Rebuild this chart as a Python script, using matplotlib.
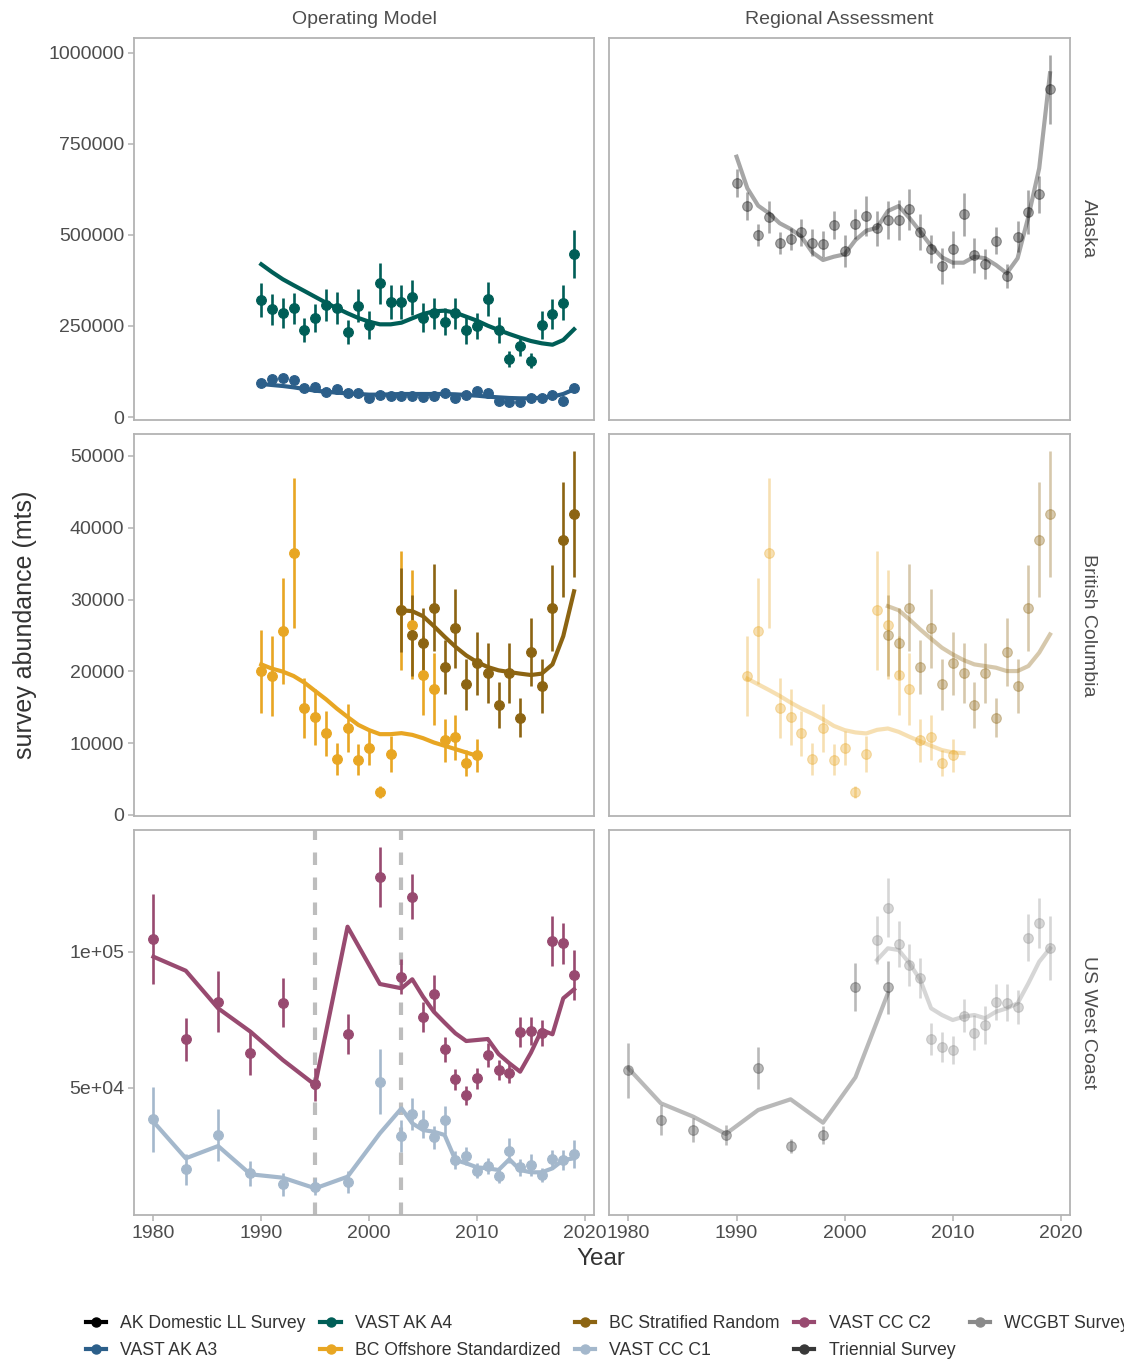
import matplotlib
matplotlib.use("Agg")
import matplotlib.pyplot as plt
from matplotlib.lines import Line2D

plt.rcParams['font.family'] = ['Liberation Sans', 'DejaVu Sans']

# ---------------- legend / series ----------------
series_names = ["AK Domestic LL Survey", "VAST AK A3", "VAST AK A4",
                "BC Offshore Standardized", "BC Stratified Random",
                "VAST CC C1", "VAST CC C2", "Triennial Survey", "WCGBT Survey"]
series_colors = ["#000000", "#2c5f8a", "#005e57", "#e8a623", "#8c6412",
                 "#a4b8cc", "#984a70", "#383838", "#8a8a8a"]
col_names = ["Operating Model", "Regional Assessment"]
row_names = ["Alaska", "British Columbia", "US West Coast"]

# ---------------- Alaska : Operating Model ----------------
ak_years = list(range(1990, 2020))
a4_values = [321400, 295900, 284900, 298600, 239000, 272800, 307700, 298600, 234500, 305900,
             252700, 367300, 315100, 315100, 328800, 272800, 284900, 261800, 284900, 239000,
             250000, 323300, 239000, 158500, 195900, 154700, 252700, 283000, 314000, 447800]
a4_err = [46700, 43000, 41000, 42000, 33000, 38000, 43000, 44000, 33000, 45000,
          38000, 57000, 47000, 47000, 48000, 40000, 42000, 37000, 43000, 38000,
          36000, 47000, 36000, 22000, 27500, 21000, 38500, 42000, 48000, 67000]
a4_fit = [419500, 398000, 378300, 362000, 346100, 330000, 314000, 299000, 284900, 272000,
          261800, 254600, 254600, 259100, 271100, 283000, 290300, 292100, 286600, 275600,
          264600, 250800, 239000, 228000, 217900, 208800, 202500, 198600, 211500, 240900]
a3_values = [92600, 104400, 108000, 101600, 80500, 83200, 67800, 76900, 65100, 66800,
             51400, 60400, 57700, 58500, 58500, 55800, 58500, 65100, 51400, 60400,
             71400, 66800, 44800, 42000, 42000, 51400, 51400, 60400, 44800, 78800]
a3_err = [8000, 8500, 8500, 8000, 7000, 7000, 6000, 6500, 6000, 6000,
          5000, 5500, 5500, 5500, 5500, 5000, 5500, 6000, 5000, 5500,
          6000, 6000, 4500, 4500, 4500, 5000, 5000, 5500, 4500, 7000]
a3_fit = [90650, 87900, 85160, 81500, 76920, 72340, 69600, 66850, 65020, 63190,
          61360, 61360, 62270, 63190, 63190, 63190, 63190, 63190, 62270, 60440,
          58610, 55860, 54030, 52200, 51290, 51290, 53120, 55860, 63190, 76010]

# ---------------- Alaska : Regional Assessment ----------------
akll_values = [642000, 580500, 500000, 550400, 478900, 489000, 507400, 478900, 475300, 527500,
               456000, 531200, 552200, 518400, 541200, 541200, 570600, 507400, 461500, 414800,
               460600, 556800, 444400, 420300, 484400, 387700, 495400, 562400, 611800, 901000]
akll_err = [38500, 38000, 30700, 44000, 30000, 30700, 36600, 36600, 36600, 39000,
            45000, 41000, 55000, 48500, 51700, 55000, 57000, 49500, 38000, 49000,
            50500, 59500, 48500, 40000, 36600, 32000, 42000, 60400, 50400, 94800]
akll_fit = [715100, 628300, 580500, 559600, 532200, 516500, 495400, 452500, 431300, 440400,
            446900, 486200, 511800, 520000, 565900, 579600, 546700, 509100, 469800, 438700,
            423900, 423900, 440400, 436000, 417600, 394800, 436000, 550400, 683200, 944200]

# ---------------- British Columbia : Operating Model ----------------
bco_years = [1990, 1991, 1992, 1993, 1994, 1995, 1996, 1997, 1998, 1999, 2000,
             2001, 2002, 2003, 2004, 2005, 2006, 2007, 2008, 2009, 2010]
bco_values = [20000, 19350, 25600, 36500, 14900, 13650, 11350, 7800, 12100, 7700, 9300,
              3150, 8450, 28500, 26500, 19450, 17500, 10400, 10800, 7200, 8300]
bco_err = [5800, 5550, 7400, 10500, 4240, 3890, 3080, 2220, 3400, 2200, 2380,
           830, 2500, 8300, 7570, 5500, 5000, 2960, 3100, 1800, 2300]
bco_fit = [20970, 20370, 19960, 19350, 18430, 17260, 16110, 14820, 13650, 12540, 11810,
           11250, 11250, 11390, 11150, 10690, 10090, 9630, 9170, 8700, 8240]
bcs_years = list(range(2003, 2020))
bcs_values = [28510, 25000, 23890, 28850, 20650, 25970, 18190, 21110, 19820, 15280,
              19820, 13570, 22680, 17960, 28850, 38330, 41940]
bcs_err = [5830, 5600, 5000, 6060, 3770, 5440, 3590, 4400, 4170, 3190,
           4170, 2780, 4700, 3750, 6020, 8030, 8800]
bcs_fit = [28510, 28380, 27680, 26300, 24820, 23430, 22220, 21290, 20600, 20140,
           19900, 19680, 19490, 19680, 20970, 24900, 31150]

# ---------------- British Columbia : Regional Assessment ----------------
ra_bco_years = bco_years[1:]
ra_bco_values = bco_values[1:]
ra_bco_err = bco_err[1:]
ra_bco_fit_years = list(range(1991, 2012))
ra_bco_fit = [18980, 18190, 17400, 16570, 15650, 14820, 14120, 13330, 12400, 11810, 11490,
              11350, 11850, 12040, 11570, 10880, 10240, 9630, 9030, 8710, 8610]
ra_bcs_years = bcs_years[1:]
ra_bcs_values = bcs_values[1:]
ra_bcs_err = bcs_err[1:]
ra_bcs_fit = [29070, 28510, 27220, 25830, 24540, 23290, 22360, 21570, 20970, 20740,
              20510, 20040, 20040, 20740, 22600, 25140]

# ---------------- US West Coast : Operating Model ----------------
cc_years = [1980, 1983, 1986, 1989, 1992, 1995, 1998, 2001, 2003, 2004, 2005, 2006, 2007,
            2008, 2009, 2010, 2011, 2012, 2013, 2014, 2015, 2016, 2017, 2018, 2019]
c2_values = [104670, 67800, 81620, 62650, 81250, 51250, 69740, 127350, 90810, 120220,
             75880, 84460, 64130, 53100, 47320, 53460, 62020, 56520, 55300, 70370,
             70960, 70000, 104040, 103090, 91320]
c2_err = [16430, 7970, 11150, 7970, 9000, 6130, 7290, 11090, 6430, 8210,
          5510, 7050, 4660, 3860, 3490, 3800, 4410, 3800, 3680, 5510,
          5080, 4720, 9190, 7470, 9190]
c2_fit = [98160, 93010, 79190, 70590, 60190, 51000, 109190, 88130, 86550, 89860,
          83460, 77940, 73900, 70000, 67170, 67540, 67910, 62400, 58980, 55890,
          62870, 71220, 69640, 82870, 86180]
c1_values = [38390, 20010, 32620, 18540, 14490, 13610, 15450, 52210, 32250, 40230,
             36660, 31770, 38130, 23430, 24900, 19490, 21220, 17660, 26850, 20740,
             21590, 17910, 23690, 23430, 25640]
c1_err = [11950, 5700, 9440, 4600, 4170, 3060, 3980, 11890, 6000, 5820,
          5210, 4290, 5020, 3250, 3370, 2760, 2760, 2570, 4600, 3060,
          3980, 2450, 3370, 3680, 5080]
c1_fit = [37510, 24050, 28570, 18170, 16920, 13020, 17290, 33230, 42420, 36910,
          34450, 33820, 32620, 23430, 22210, 20740, 20370, 19750, 23690, 19750,
          18910, 18910, 20370, 23430, 24050]
break_years = [1995, 2003]

# ---------------- US West Coast : Regional Assessment ----------------
tri_years = [1980, 1983, 1986, 1989, 1992, 1995, 1998, 2001, 2004]
tri_values = [56510, 38130, 34450, 32620, 57130, 28580, 32620, 86910, 86910]
tri_err = [10110, 5510, 4410, 3800, 7720, 2570, 3190, 8880, 9800]
tri_fit = [57130, 44270, 39350, 32990, 41810, 45740, 37140, 53830, 84710]
wc_years = list(range(2003, 2020))
wc_values = [104300, 116170, 102720, 95110, 90220, 67910, 64860, 63870, 76470, 70220,
             73060, 81620, 81250, 79780, 105150, 110440, 101470]
wc_err = [8700, 10840, 8390, 7780, 7350, 5700, 5510, 5200, 6130, 6430,
          6980, 6620, 6740, 6250, 8580, 9190, 11760]
wc_fit = [96950, 101250, 100620, 95740, 89600, 79190, 76730, 74890, 76110, 76730,
          75520, 77940, 79190, 81030, 88380, 96320, 101250]

# ---------------- figure ----------------
W, H = 1124, 1359
fig = plt.figure(figsize=(W / 100, H / 100), dpi=100)

col_x = [(134, 594), (609, 1070)]
row_y = [(38, 420), (434, 816), (830, 1215)]
ylims = [(-8240, 1041200), (-150, 53060), (3210, 144740)]
yticks = [([0, 250000, 500000, 750000, 1000000], ["0", "250000", "500000", "750000", "1000000"]),
          ([0, 10000, 20000, 30000, 40000, 50000], ["0", "10000", "20000", "30000", "40000", "50000"]),
          ([50000, 100000], ["5e+04", "1e+05"])]
xticks = [1980, 1990, 2000, 2010, 2020]
border = "#b3b3b3"
txtc = "#4d4d4d"
RA_ALPHA = 0.35

axes = {}
for r, (y0, y1) in enumerate(row_y):
    for c, (x0, x1) in enumerate(col_x):
        ax = fig.add_axes([x0 / W, 1 - y1 / H, (x1 - x0) / W, (y1 - y0) / H])
        ax.set_xlim(1978.2, 2020.85)
        ax.set_ylim(*ylims[r])
        for s in ax.spines.values():
            s.set_color(border)
            s.set_linewidth(1.3)
        ax.set_xticks(xticks)
        ax.set_xticklabels([str(v) for v in xticks])
        ax.set_yticks(yticks[r][0])
        ax.set_yticklabels(yticks[r][1])
        ax.tick_params(colors=border, labelcolor=txtc, labelsize=14, length=4, width=1.1,
                       pad=3)
        if r < 2:
            ax.tick_params(axis='x', bottom=False, labelbottom=False)
        if c == 1:
            ax.tick_params(axis='y', left=False, labelleft=False)
        axes[(r, c)] = ax


def pts(ax, x, y, e, color, alpha=1.0):
    ax.errorbar(x, y, yerr=e, fmt='o', color=color, ms=7, mew=0.8, mec=color,
                elinewidth=1.9, capsize=0, alpha=alpha, zorder=3)


def fit(ax, x, y, color, alpha=1.0):
    ax.plot(x, y, color=color, lw=3, alpha=alpha, zorder=4, solid_joinstyle='round')


C = dict(zip(series_names, series_colors))

# Alaska
ax = axes[(0, 0)]
pts(ax, ak_years, a4_values, a4_err, C["VAST AK A4"])
fit(ax, ak_years, a4_fit, C["VAST AK A4"])
pts(ax, ak_years, a3_values, a3_err, C["VAST AK A3"])
fit(ax, ak_years, a3_fit, C["VAST AK A3"])
ax = axes[(0, 1)]
pts(ax, ak_years, akll_values, akll_err, C["AK Domestic LL Survey"], RA_ALPHA)
fit(ax, ak_years, akll_fit, C["AK Domestic LL Survey"], RA_ALPHA)

# British Columbia
ax = axes[(1, 0)]
pts(ax, bco_years, bco_values, bco_err, C["BC Offshore Standardized"])
fit(ax, bco_years, bco_fit, C["BC Offshore Standardized"])
pts(ax, bcs_years, bcs_values, bcs_err, C["BC Stratified Random"])
fit(ax, bcs_years, bcs_fit, C["BC Stratified Random"])
ax = axes[(1, 1)]
pts(ax, ra_bco_years, ra_bco_values, ra_bco_err, C["BC Offshore Standardized"], RA_ALPHA)
fit(ax, ra_bco_fit_years, ra_bco_fit, C["BC Offshore Standardized"], RA_ALPHA)
pts(ax, ra_bcs_years, ra_bcs_values, ra_bcs_err, C["BC Stratified Random"], RA_ALPHA)
fit(ax, ra_bcs_years, ra_bcs_fit, C["BC Stratified Random"], RA_ALPHA)

# US West Coast
ax = axes[(2, 0)]
for by in break_years:
    ax.axvline(by, color="#bdbdbd", lw=3, dashes=(3, 3), zorder=2)
pts(ax, cc_years, c2_values, c2_err, C["VAST CC C2"])
fit(ax, cc_years, c2_fit, C["VAST CC C2"])
pts(ax, cc_years, c1_values, c1_err, C["VAST CC C1"])
fit(ax, cc_years, c1_fit, C["VAST CC C1"])
ax = axes[(2, 1)]
pts(ax, tri_years, tri_values, tri_err, C["Triennial Survey"], RA_ALPHA)
fit(ax, tri_years, tri_fit, C["Triennial Survey"], RA_ALPHA)
pts(ax, wc_years, wc_values, wc_err, C["WCGBT Survey"], RA_ALPHA)
fit(ax, wc_years, wc_fit, C["WCGBT Survey"], RA_ALPHA)

# strip labels
for c, (x0, x1) in enumerate(col_x):
    fig.text((x0 + x1) / 2 / W, 1 - 19 / H, col_names[c], ha='center', va='center',
             fontsize=14, color=txtc)
for r, (y0, y1) in enumerate(row_y):
    fig.text(1088 / W, 1 - (y0 + y1) / 2 / H, row_names[r], ha='center', va='center',
             rotation=-90, fontsize=14, color=txtc)

fig.text(25 / W, 1 - 625 / H, "survey abundance (mts)", rotation=90, ha='center',
         va='center', fontsize=18, color="#333333")
fig.text(601 / W, 1 - 1259 / H, "Year", ha='center', va='center', fontsize=17.5,
         color="#333333")

handles = [Line2D([], [], color=col, marker='o', ms=6.5, lw=3) for col in series_colors]
fig.legend(handles, series_names, ncol=5, loc='upper left',
           bbox_to_anchor=(86 / W, 1 - 1315 / H), frameon=False, fontsize=12.7,
           handlelength=1.15, handletextpad=0.8, columnspacing=0.82, labelspacing=0.55,
           borderpad=0, borderaxespad=0, labelcolor="#333333")

fig.savefig("out.png", dpi=100)
